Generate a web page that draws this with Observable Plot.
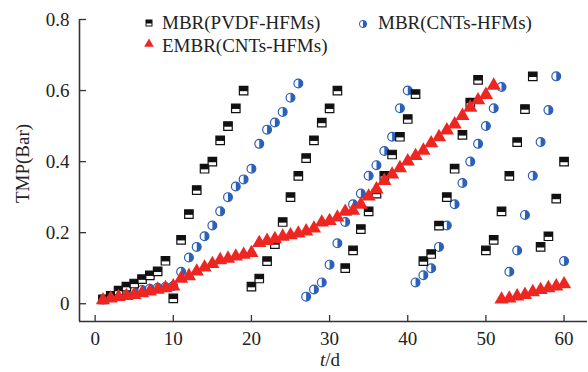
<!DOCTYPE html>
<html><head><meta charset="utf-8">
<script src="https://cdn.jsdelivr.net/npm/d3@7"></script>
<script src="https://cdn.jsdelivr.net/npm/@observablehq/plot@0.6"></script>
<style>body{margin:0;background:#fff} svg{display:block} svg text{font-family:"Liberation Serif",serif !important;}</style>
</head><body><div id="chart"></div>
<script>
const days = [1,2,3,4,5,6,7,8,9,10,11,12,13,14,15,16,17,18,19,20,21,22,23,24,25,26,27,28,29,30,31,32,33,34,35,36,37,38,39,40,41,42,43,44,45,46,47,48,49,50,51,52,53,54,55,56,57,58,59,60];
const pvdf = [0.012,0.022,0.037,0.048,0.057,0.069,0.080,0.091,0.121,0.015,
              0.180,0.252,0.320,0.380,0.400,0.460,0.500,0.550,0.600,0.048,
              0.071,0.120,0.168,0.230,0.300,0.360,0.410,0.460,0.510,0.550,
              0.600,0.100,0.150,0.210,0.260,0.310,0.360,0.420,0.470,0.520,
              0.590,0.120,0.140,0.220,0.300,0.380,0.475,0.566,0.630,0.150,
              0.180,0.260,0.360,0.455,0.548,0.640,0.160,0.190,0.296,0.400];
const cnts = [0.012,0.020,0.027,0.032,0.036,0.039,0.042,0.045,0.047,0.050,
              0.090,0.130,0.160,0.190,0.220,0.260,0.300,0.330,0.350,0.380,
              0.450,0.490,0.510,0.540,0.580,0.620,0.020,0.040,0.060,0.110,
              0.170,0.230,0.280,0.310,0.360,0.390,0.430,0.470,0.550,0.600,
              0.060,0.080,0.100,0.160,0.220,0.280,0.340,0.400,0.450,0.500,
              0.550,0.610,0.090,0.150,0.250,0.360,0.455,0.545,0.640,0.120];
const embr = [0.010,0.015,0.019,0.022,0.025,0.030,0.035,0.040,0.044,0.049,
              0.071,0.078,0.091,0.102,0.112,0.123,0.127,0.133,0.138,0.143,
              0.171,0.177,0.182,0.189,0.193,0.198,0.204,0.212,0.229,0.233,
              0.243,0.259,0.262,0.279,0.302,0.322,0.346,0.364,0.382,0.401,
              0.416,0.431,0.452,0.469,0.488,0.505,0.529,0.552,0.573,0.588,
              0.614,0.012,0.015,0.021,0.025,0.033,0.039,0.044,0.049,0.055];
const xTicks = [0,10,20,30,40,50,60];
const yTicks = [0,0.2,0.4,0.6,0.8];
const seriesNames = ["MBR(PVDF-HFMs)","MBR(CNTs-HFMs)","EMBR(CNTs-HFMs)"];

const BLUE = "#2c5fb9", RED = "#ee2622", BLACK = "#111";
const rows = vals => days.map((d,i) => ({day:d, tmp:vals[i]}));

const halfSquare = {draw(ctx,size){const s=Math.sqrt(size)/2;ctx.moveTo(-s,-s);ctx.lineTo(s,-s);ctx.lineTo(s,s*0.15);ctx.lineTo(-s,s*0.15);ctx.closePath();}};
const squareSym = {draw(ctx,size){const s=Math.sqrt(size)/2;ctx.moveTo(-s,-s);ctx.lineTo(s,-s);ctx.lineTo(s,s);ctx.lineTo(-s,s);ctx.closePath();}};
const halfCircle = {draw(ctx,size){const r=Math.sqrt(size/Math.PI);ctx.moveTo(0,-r);ctx.arc(0,0,r,-Math.PI/2,Math.PI/2);ctx.closePath();}};

const W=588,H=372,ML=79,MR=1,MT=19,MB=51;
const fw=W-ML-MR, fh=H-MT-MB;
const FONT = "Liberation Serif";

const plot = Plot.plot({
  width:W, height:H, marginLeft:ML, marginRight:MR, marginTop:MT, marginBottom:MB,
  x:{domain:[-2,63]}, y:{domain:[-0.05,0.8]},
  style:{fontFamily:FONT, fontSize:"19px", color:"#222", background:"#fff"},
  marks:[
    Plot.axisX({ticks:xTicks, tickSize:0, tickPadding:10, label:null, fontSize:19}),
    Plot.axisY({ticks:yTicks, tickSize:0, tickPadding:10, label:null, fontSize:19, tickFormat:d=>String(d)}),
    Plot.tickX(xTicks, {x:d=>d, insetTop:fh-6, stroke:"#333", strokeWidth:1.3}),
    Plot.tickY(yTicks, {y:d=>d, insetRight:fw-7, stroke:"#333", strokeWidth:1.3}),
    Plot.ruleX([-2], {stroke:"#333", strokeWidth:1.6}),
    Plot.ruleY([-0.05], {stroke:"#333", strokeWidth:1.6}),
    Plot.text(["TMP(Bar)"], {frameAnchor:"left", dx:-57, dy:-7, rotate:-90, textAnchor:"middle", fontSize:19, fill:"#222"}),
    Plot.dot(rows(cnts), {x:"day", y:"tmp", r:4.4, symbol:"circle", fill:"white", stroke:BLUE, strokeWidth:1.2}),
    Plot.dot(rows(cnts), {x:"day", y:"tmp", r:4.4, symbol:halfCircle, fill:BLUE}),
    Plot.dot(rows(pvdf), {x:"day", y:"tmp", r:4.8, symbol:squareSym, fill:"white", stroke:BLACK, strokeWidth:1.2}),
    Plot.dot(rows(pvdf), {x:"day", y:"tmp", r:4.8, symbol:halfSquare, fill:BLACK}),
    Plot.dot(rows(embr), {x:"day", y:"tmp", r:5.3, symbol:"triangle", fill:RED})
  ]
});

const svg = d3.select(plot);
svg.selectAll("text").style("font-family", FONT).style("font-variant", "normal");
// legend
const lg = svg.append("g").attr("font-size",19).attr("fill","#222").attr("text-anchor","start");
const items = [
  {name:seriesNames[0], mx:149, my:23, tx:162, ty:29, kind:"sq"},
  {name:seriesNames[1], mx:363, my:24, tx:378, ty:29, kind:"ci"},
  {name:seriesNames[2], mx:149, my:44, tx:162, ty:52, kind:"tr"}
];
for (const it of items) {
  const g = lg.append("g").attr("transform",`translate(${it.mx},${it.my})`);
  if (it.kind==="sq") {
    g.append("rect").attr("x",-3).attr("y",-3).attr("width",6).attr("height",6).attr("fill","white").attr("stroke",BLACK);
    g.append("rect").attr("x",-3).attr("y",-3).attr("width",6).attr("height",3.5).attr("fill",BLACK);
  } else if (it.kind==="ci") {
    g.append("circle").attr("r",3.6).attr("fill","white").attr("stroke",BLUE);
    g.append("path").attr("d",d3.arc()({innerRadius:0,outerRadius:3.6,startAngle:0,endAngle:Math.PI})).attr("fill",BLUE);
  } else {
    g.append("path").attr("d",d3.symbol(d3.symbolTriangle,40)()).attr("fill",RED);
  }
  lg.append("text").attr("x",it.tx).attr("y",it.ty).attr("text-anchor","start").style("font-family",FONT).text(it.name);
}
// x label
const xl = svg.append("text").attr("x",330).attr("y",366).attr("text-anchor","middle")
  .style("font-family",FONT).attr("font-size",19).attr("fill","#222");
xl.append("tspan").attr("font-style","italic").text("t");
xl.append("tspan").text("/d");

document.getElementById("chart").appendChild(plot);
</script>
</body></html>
